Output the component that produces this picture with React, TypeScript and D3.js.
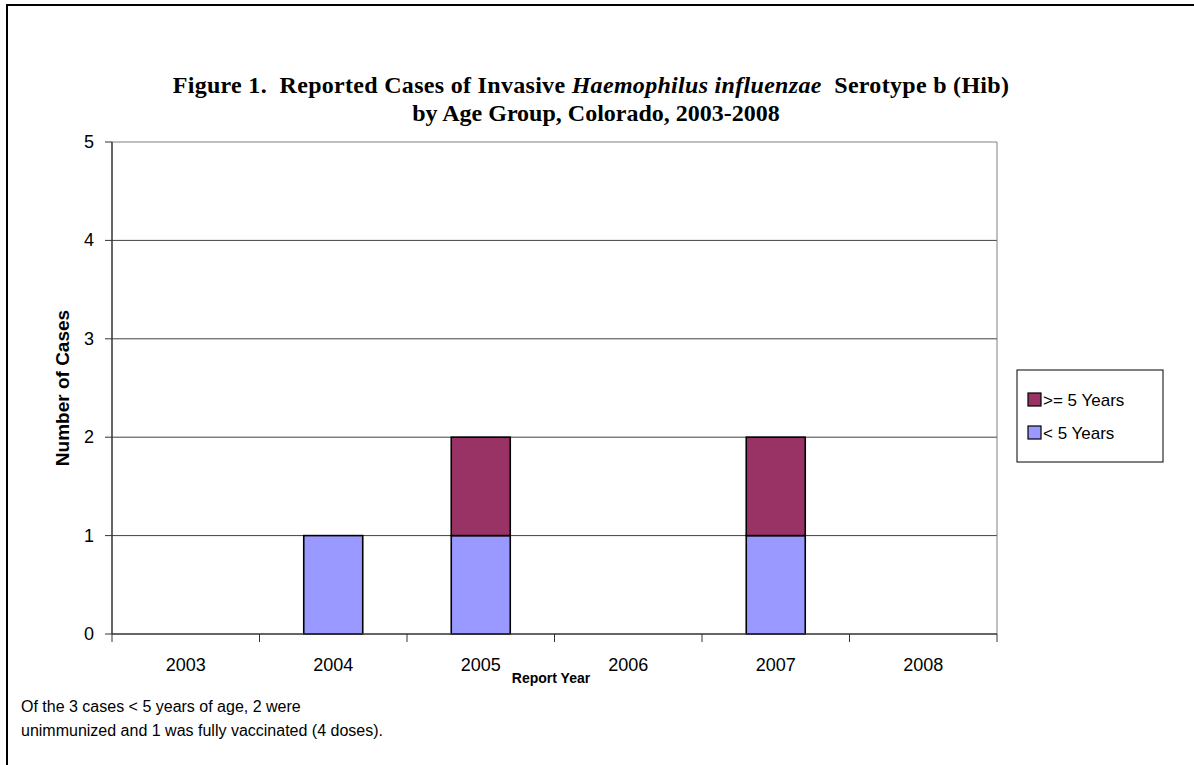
import React from "react";
import * as d3 from "d3";

const years = ["2003", "2004", "2005", "2006", "2007", "2008"];
const under5 = [0, 1, 1, 0, 1, 0];
const over5 = [0, 0, 1, 0, 1, 0];
const yTicks = [0, 1, 2, 3, 4, 5];
const seriesNames = ["< 5 Years", ">= 5 Years"];
const seriesColors = ["#9999FF", "#993366"];
const titleLine1a = "Figure 1.  Reported Cases of Invasive ";
const titleLine1b = "Haemophilus influenzae";
const titleLine1c = "  Serotype b (Hib)";
const titleLine2 = "by Age Group, Colorado, 2003-2008";
const footLines = [
  "Of the 3 cases < 5 years of age, 2 were",
  "unimmunized and 1 was fully vaccinated (4 doses).",
];

const W = 1194;
const H = 765;
const plot = { left: 112, right: 997, top: 142, bottom: 634 };

export default function App() {
  const x = d3
    .scaleBand<string>()
    .domain(years)
    .range([plot.left, plot.right])
    .paddingInner(0.6)
    .paddingOuter(0.3);
  const xEdge = d3.scaleLinear().domain([0, years.length]).range([plot.left, plot.right]);
  const y = d3.scaleLinear().domain([0, 5]).range([plot.bottom, plot.top]);

  const table = years.map((yr, i) => ({ year: yr, u: under5[i], o: over5[i] }));
  const stack = d3.stack<any>().keys(["u", "o"]);
  const layers = stack(table);

  const sans = "'Liberation Sans', Arial, sans-serif";
  const serif = "'Liberation Serif', 'Times New Roman', serif";

  return (
    <svg
      width={W}
      height={H}
      style={{ position: "absolute", left: 0, top: 0, background: "#fff" }}
    >
      <rect x={0} y={0} width={W} height={H} fill="#fff" />
      <rect x={7} y={5} width={W + 20} height={H + 20} fill="none" stroke="#000" strokeWidth={2} />

      {/* title */}
      <text
        x={591}
        y={93}
        textAnchor="middle"
        fontFamily={serif}
        fontWeight="bold"
        fontSize={24}
        letterSpacing={0.3}
        style={{ whiteSpace: "pre" }}
      >
        <tspan>{titleLine1a}</tspan>
        <tspan fontStyle="italic">{titleLine1b}</tspan>
        <tspan>{titleLine1c}</tspan>
      </text>
      <text x={596} y={121} textAnchor="middle" fontFamily={serif} fontWeight="bold" fontSize={24}>
        {titleLine2}
      </text>

      {/* gridlines */}
      {yTicks.filter((t) => t > 0).map((t) => (
        <line
          key={"g" + t}
          x1={plot.left}
          x2={plot.right}
          y1={y(t)}
          y2={y(t)}
          stroke={t === 5 ? "#808080" : "#404040"}
          strokeWidth={1}
        />
      ))}
      {/* right border */}
      <line x1={plot.right} x2={plot.right} y1={plot.top} y2={plot.bottom} stroke="#808080" strokeWidth={1} />

      {/* bars */}
      {layers.map((layer, li) =>
        layer.map((d, i) =>
          d[1] - d[0] > 0 ? (
            <rect
              key={li + "-" + i}
              x={x(years[i])}
              y={y(d[1])}
              width={x.bandwidth()}
              height={y(d[0]) - y(d[1])}
              fill={seriesColors[li]}
              stroke="#000"
              strokeWidth={1.6}
            />
          ) : null
        )
      )}

      {/* axes */}
      <line x1={plot.left} x2={plot.left} y1={plot.top} y2={plot.bottom} stroke="#333" strokeWidth={1.5} />
      <line x1={plot.left} x2={plot.right} y1={plot.bottom} y2={plot.bottom} stroke="#333" strokeWidth={1.5} />
      {yTicks.map((t) => (
        <g key={"yt" + t}>
          <line x1={plot.left - 7} x2={plot.left} y1={y(t)} y2={y(t)} stroke="#333" strokeWidth={1} />
          <text x={plot.left - 18} y={y(t) + 6} textAnchor="end" fontFamily={sans} fontSize={18}>
            {t}
          </text>
        </g>
      ))}
      {d3.range(years.length + 1).map((i) => (
        <line
          key={"xt" + i}
          x1={xEdge(i)}
          x2={xEdge(i)}
          y1={plot.bottom}
          y2={plot.bottom + 8}
          stroke="#333"
          strokeWidth={1}
        />
      ))}
      {years.map((yr) => (
        <text
          key={"xl" + yr}
          x={(x(yr) as number) + x.bandwidth() / 2}
          y={671}
          textAnchor="middle"
          fontFamily={sans}
          fontSize={18}
        >
          {yr}
        </text>
      ))}

      {/* axis titles */}
      <text x={551} y={683} textAnchor="middle" fontFamily={sans} fontWeight="bold" fontSize={14}>
        Report Year
      </text>
      <text
        transform={`translate(69, ${(plot.top + plot.bottom) / 2}) rotate(-90)`}
        textAnchor="middle"
        fontFamily={sans}
        fontWeight="bold"
        fontSize={19}
      >
        Number of Cases
      </text>

      {/* legend */}
      <rect x={1017} y={370} width={146} height={92} fill="#fff" stroke="#000" strokeWidth={1} />
      {[1, 0].map((si, k) => (
        <g key={"lg" + si}>
          <rect x={1028} y={400 + k * 33 - 7} width={13} height={13} fill={seriesColors[si]} stroke="#000" strokeWidth={1.2} />
          <text x={1043} y={400 + k * 33 + 6} fontFamily={sans} fontSize={17}>
            {seriesNames[si]}
          </text>
        </g>
      ))}

      {/* footnote */}
      {footLines.map((l, i) => (
        <text key={"f" + i} x={21} y={712 + i * 24} fontFamily={sans} fontSize={16}>
          {l}
        </text>
      ))}
    </svg>
  );
}
